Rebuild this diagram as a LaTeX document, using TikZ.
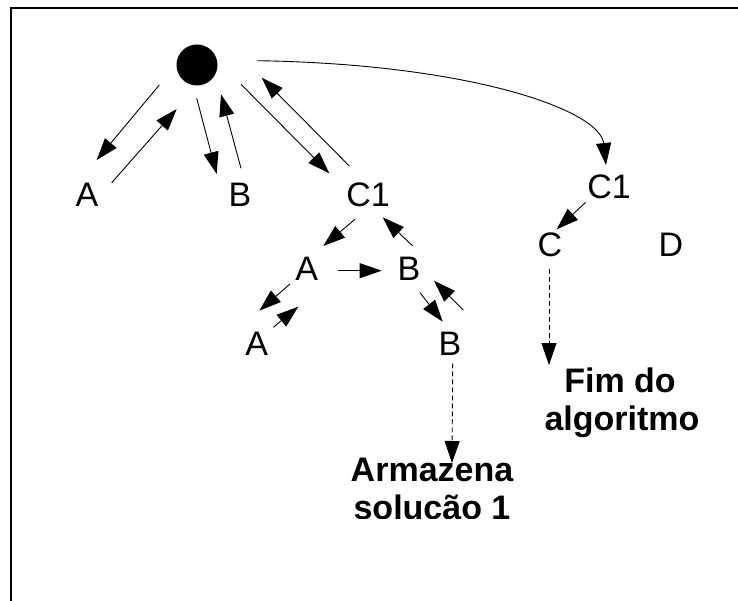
\documentclass[tikz,border=0pt]{standalone}
\usepackage{fontspec}
\setmainfont{Liberation Sans}
\usetikzlibrary{arrows.meta,calc}

\begin{document}
\begin{tikzpicture}[x=1pt,y=-1pt,
  lbl/.style={inner sep=0pt,anchor=base,font=\fontsize{34}{38}\selectfont},
  bold/.style={inner sep=0pt,anchor=base,font=\fontsize{34}{38}\selectfont\bfseries},
  arr/.style={line width=0.9pt,-{Triangle[length=22pt,width=15pt]}},
  darr/.style={arr,dash pattern=on 5pt off 3pt}]

% page area and open frame (top and left edges only)
\useasboundingbox (0,0) rectangle (738,601);
\draw[line width=2.3pt] (10.8,601) -- (10.8,7.7) -- (738,7.7);

% start state
\node[circle,fill=black,minimum size=41pt,inner sep=0pt] (root) at (197,65) {};

% first level
\node[lbl] (a1) at (87,207) {A};
\node[lbl] (b1) at (240,207) {B};
\node[lbl] (c1) at (368,207) {C1};

% subtree under C1
\node[lbl] (a2) at (306.7,280) {A};
\node[lbl] (b2) at (409,280) {B};
\node[lbl] (a3) at (256.7,355) {A};
\node[lbl] (b3) at (450,355) {B};
\node[bold] (arm) at (432,481.7) {Armazena};
\begin{scope}
  \clip (0,0) rectangle (738,518.5);
  \node[bold] (sol) at (432,519.7) {solução 1};
\end{scope}

% second branch
\node[lbl] (c1r) at (609,198.5) {C1};
\node[lbl] (c) at (550,257) {C};
\node[lbl] (d) at (671,257) {D};
\node[bold] (fim) at (620,392.7) {Fim do};
\node[bold] (alg) at (622,430.7) {algoritmo};

% root <-> first level
\draw[arr] ($(root)+(-37.7,20)$) -- ($(a1.base)+(9.7,-47)$);
\draw[arr] ($(a1.base)+(24.7,-24.3)$) -- ($(root)+(-20.3,44)$);
\draw[arr] ($(root)+(-0.3,33.3)$) -- ($(b1.base)+(-23.3,-33)$);
\draw[arr] ($(b1.base)+(1,-38.7)$) -- ($(root)+(24,29.3)$);
\draw[arr] ($(root)+(44,19.3)$) -- ($(c1.base)+(-38.7,-33.7)$);
\draw[arr] ($(c1.base)+(-18.7,-41)$) -- ($(root)+(64.7,12.7)$);

% root to the second C1
\draw[arr] ($(root)+(60.3,-4.3)$) .. controls (470,64) and (600,110) .. ($(c1r.base)+(-3,-33.5)$);

% moves inside the C1 subtree
\draw[arr] ($(c1.base)+(-13,12.3)$) -- ($(a2.base)+(16.6,-34)$);
\draw[arr] ($(a2.base)+(31.6,-9.3)$) -- ($(b2.base)+(-27.3,-9.3)$);
\draw[arr] ($(b2.base)+(3.7,-34)$) -- ($(c1.base)+(14.7,10.3)$);
\draw[arr] ($(a2.base)+(-16.7,4)$) -- ($(a3.base)+(2.6,-44.3)$);
\draw[arr] ($(a3.base)+(16.6,-27.7)$) -- ($(a2.base)+(-8.4,26.7)$);
\draw[arr] ($(b2.base)+(11,12.7)$) -- ($(b3.base)+(-7.3,-33.3)$);
\draw[arr] ($(b3.base)+(13.3,-45)$) -- ($(b2.base)+(25,0.7)$);
\draw[darr] ($(b3.base)+(2.7,8.3)$) -- ($(arm.base)+(20,-18.7)$);

% second branch moves
\draw[arr] ($(c1r.base)+(-23.3,3.8)$) -- ($(c.base)+(6.7,-27.7)$);
\draw[darr] ($(c.base)+(-1,12.3)$) -- ($(c.base)+(-1,108)$);
\end{tikzpicture}
\end{document}
